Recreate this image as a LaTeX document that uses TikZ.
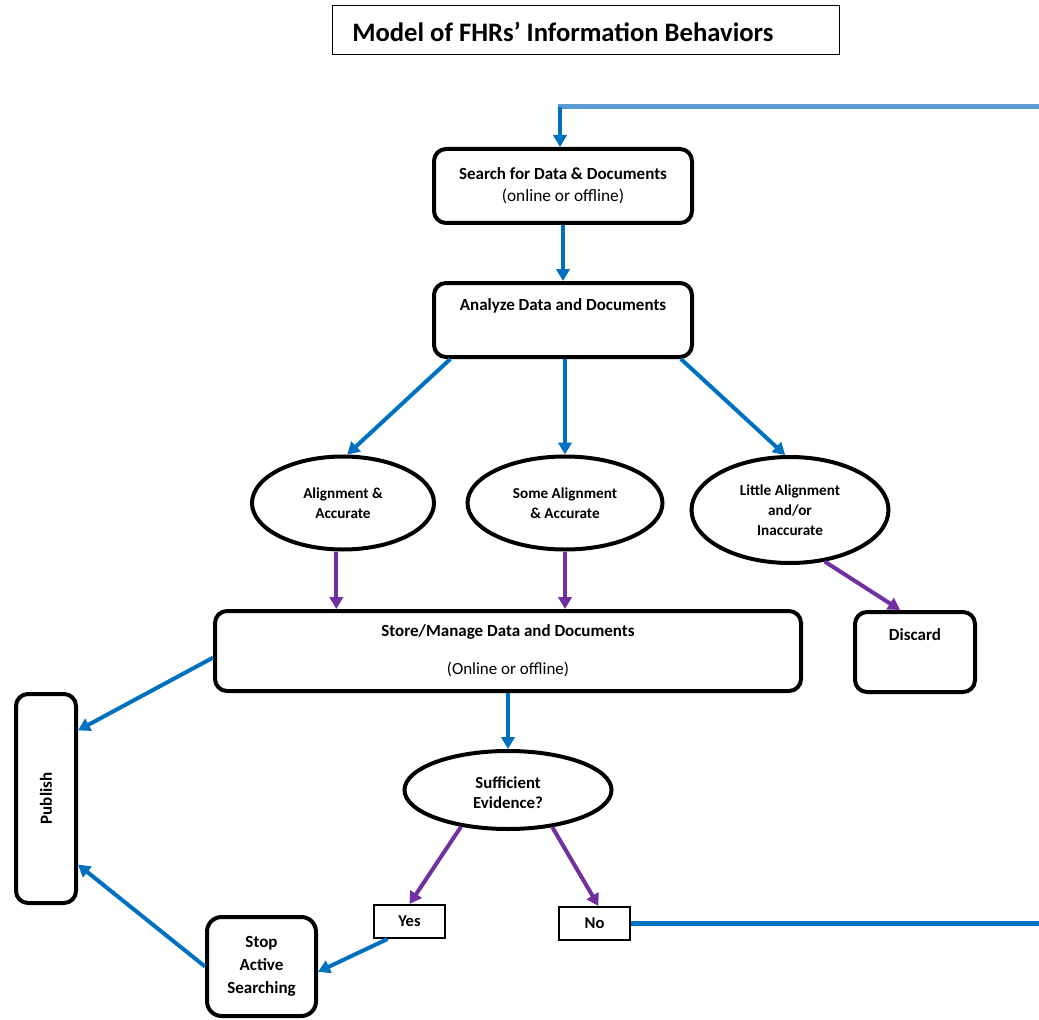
\documentclass[tikz,border=0pt]{standalone}
\usepackage{fontspec}
\setmainfont{Carlito}
\usetikzlibrary{arrows.meta,shapes.geometric,calc}
\definecolor{flowblue}{HTML}{0070C0}
\definecolor{loopblue}{HTML}{5B9BD5}
\definecolor{flowpurple}{HTML}{7030A0}
\tikzset{
  box/.style={draw=black, line width=3pt, rounded corners=9pt, fill=white, inner sep=0pt, align=center,
    font=\fontsize{12.75}{16.5}\selectfont\bfseries},
  oval/.style={ellipse, draw=black, line width=3pt, fill=white, inner sep=0pt, align=center,
    font=\fontsize{11.4}{15}\selectfont\bfseries},
  tag/.style={draw=black, line width=1.8pt, fill=white, inner sep=0pt,
    font=\fontsize{12.4}{15}\selectfont\bfseries},
  lbl/.style={font=\fontsize{12.75}{16.5}\selectfont\bfseries, align=center, inner sep=0pt},
  tip/.style={-{Triangle[width=10pt,length=9pt]}},
  bluearrow/.style={tip, draw=flowblue, fill=flowblue, line width=3pt},
  purplearrow/.style={tip, draw=flowpurple, fill=flowpurple, line width=3pt},
  loopline/.style={line width=3.75pt},
}
\begin{document}
\begin{tikzpicture}[x=0.75pt,y=-0.75pt]
\useasboundingbox (0,0) rectangle (1039,1020);

% title
\node[draw=black, line width=1pt, minimum width=380pt, minimum height=36.75pt, inner sep=0pt] (title) at (586,30) {};
\node[anchor=west, inner sep=0pt, font=\fontsize{20}{24}\selectfont\bfseries] (titletext) at (352,32) {Model of FHRs’ Information Behaviors};

% process boxes
\node[box, minimum width=193.5pt, minimum height=55.5pt] (search) at (563,186)
  {Search for Data \& Documents\\{\mdseries\fontsize{13}{16.5}\selectfont (online or offline)}};
\node[box, minimum width=193.5pt, minimum height=55.5pt] (analyze) at (563,320) {};
\node[lbl] (analyzetext) at (563,306) {Analyze Data and Documents};

% assessment ovals
\node[oval, minimum width=136.5pt, minimum height=69.75pt] (e1) at (343,503) {Alignment \&\\Accurate};
\node[oval, minimum width=146.25pt, minimum height=69.75pt] (e2) at (565,503) {Some Alignment\\\& Accurate};
\node[oval, minimum width=147.75pt, minimum height=79.5pt] (e3) at (790,510) {Little Alignment\\and/or\\Inaccurate};

% storage and discard
\node[box, minimum width=439.5pt, minimum height=60pt] (store) at (508,651)
  {Store/Manage Data and Documents\\[12pt]{\mdseries (Online or offline)}};
\node[box, minimum width=90pt, minimum height=60pt] (discard) at (915,652) {};
\node[lbl] (discardtext) at (915,635) {Discard};

% publish
\node[box, minimum width=45pt, minimum height=156.75pt] (publish) at (46,798.5) {};
\node[lbl, rotate=90] (publishtext) at (publish) {Publish};

% decision
\node[oval, minimum width=155.25pt, minimum height=58.5pt, font=\fontsize{12.6}{15}\selectfont\bfseries] (suff) at (508,790) {};
\node[lbl, font=\fontsize{12.6}{15}\selectfont\bfseries] (sufftext) at (508,793) {Sufficient\\Evidence?};
\node[tag, minimum width=52.9pt, minimum height=24.4pt] (yes) at (409.5,921.5) {Yes};
\node[tag, minimum width=52.9pt, minimum height=24.4pt] (no) at (594.5,923.5) {No};
\node[box, rounded corners=11pt, minimum width=81.75pt, minimum height=74.25pt, font=\fontsize{12.75}{17.25}\selectfont\bfseries] (stop) at (261.5,966.5) {Stop\\Active\\Searching};

% main flow
\draw[bluearrow] (search.south) -- (analyze.north);
\draw[bluearrow] ($(analyze.south west)!0.07!(analyze.south east)$) -- (e1.85);
\draw[bluearrow] (analyze.south -| e2.north) -- (e2.north);
\draw[bluearrow] ($(analyze.south west)!0.95!(analyze.south east)$) -- (e3.95);

\draw[purplearrow] ([xshift=-5pt]e1.south) -- ([xshift=-5pt]e1.south |- store.north);
\draw[purplearrow] (e2.south) -- (e2.south |- store.north);
\draw[purplearrow] (e3.-56) -- ($(discard.north west)!0.38!(discard.north east)$);

\draw[bluearrow] ([yshift=-5pt]store.west) -- ($(publish.north east)!0.18!(publish.south east)$);
\draw[bluearrow] (store.south) -- (suff.north);

\draw[purplearrow] (suff.-142) -- (yes.north);
\draw[purplearrow] (suff.-40) -- ([xshift=3pt]no.north);

\draw[bluearrow] ($(yes.south west)!0.2!(yes.south east)$) -- ([yshift=-4pt]stop.east);
\draw[bluearrow] (stop.west) -- ($(publish.north east)!0.81!(publish.south east)$);

% return loop from "No" back to the search step
\coordinate (loopcorner) at (1047,107);
\coordinate (loopdrop) at (560,107);
\draw[flowblue, loopline] (no.east) -- (no.east -| loopcorner) -- (loopcorner);
\draw[loopblue, loopline] (loopcorner) -- ([xshift=-1.5pt]loopdrop);
\draw[bluearrow] (loopdrop) -- (loopdrop |- search.north);
\end{tikzpicture}
\end{document}
